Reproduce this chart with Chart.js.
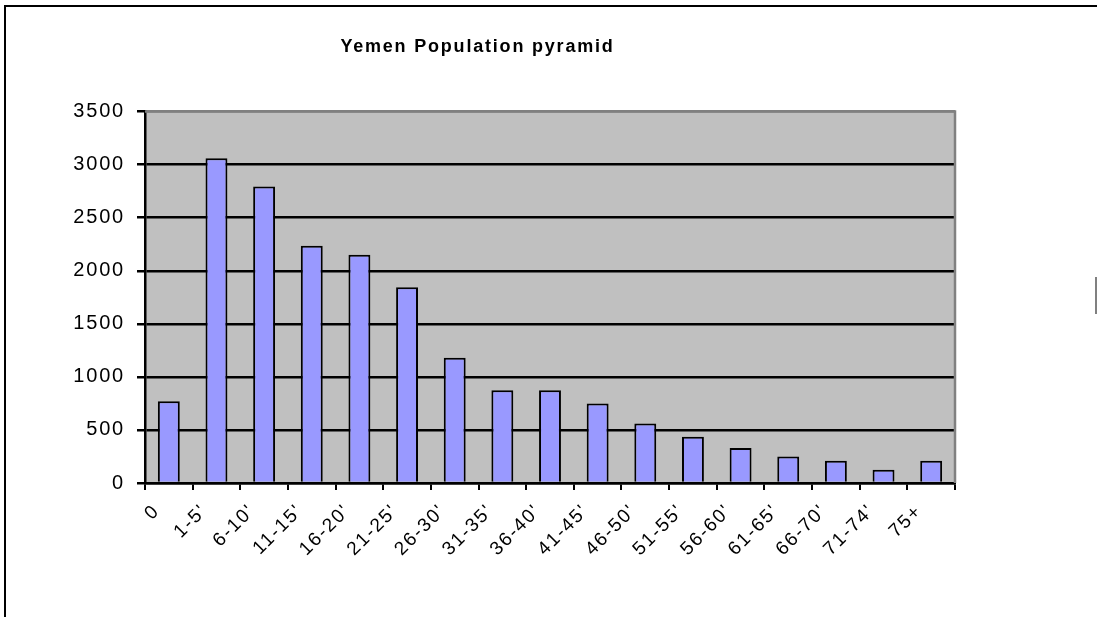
<!DOCTYPE html>
<html>
<head>
<meta charset="utf-8">
<script src="https://cdn.jsdelivr.net/npm/chart.js@4"></script>
<style>
  body { margin: 0; background: #fff; overflow: hidden; }
  #wrap { position: relative; width: 1097px; height: 617px; }
  #frame { position: absolute; left: 4px; top: 5px; width: 3000px; height: 3000px;
           border-top: 2px solid #000; border-left: 2px solid #000; }
  #mark { position: absolute; left: 1095px; top: 277px; width: 2px; height: 37px; background: #808080; }
  canvas { position: absolute; left: 0; top: 0; }
</style>
</head>
<body>
<div id="wrap">
  <canvas id="pyramid" width="1097" height="617"></canvas>
  <div id="frame"></div>
  <div id="mark"></div>
</div>
<script>
// age groups and population (thousands)
const ageGroups = ["0", "1-5'", "6-10'", "11-15'", "16-20'", "21-25'", "26-30'", "31-35'", "36-40'",
                   "41-45'", "46-50'", "51-55'", "56-60'", "61-65'", "66-70'", "71-74'", "75+"];
const population = [770, 3060, 2795, 2235, 2150, 1845, 1180, 875, 875, 750, 560, 435, 330, 250, 210, 125, 210];
const yTicks = [0, 500, 1000, 1500, 2000, 2500, 3000, 3500];

// grey plot area with the grey top/right edge
const plotBackground = {
    id: 'plotBackground',
    beforeUpdate(chart) {
        chart.ctx.letterSpacing = '1.8px';
    },
    beforeDraw(chart) {
        let { ctx, chartArea: a } = chart;
        ctx.save();
        ctx.fillStyle = '#C0C0C0';
        ctx.fillRect(a.left, a.top, a.right - a.left, a.bottom - a.top);
        ctx.restore();
    },
    afterDraw(chart) {
        let { ctx, chartArea: a } = chart;
        ctx.save();
        ctx.strokeStyle = '#808080';
        ctx.lineWidth = 2.5;
        ctx.beginPath();
        ctx.moveTo(a.left, a.top);
        ctx.lineTo(a.right, a.top);
        ctx.lineTo(a.right, a.bottom);
        ctx.stroke();
        ctx.restore();
    }
};

let ctx = document.getElementById('pyramid').getContext('2d');
let pyramidChart = new Chart(ctx, {
    type: 'bar',
    data: {
        labels: ageGroups,
        datasets: [{
            label: 'Population',
            data: population,
            backgroundColor: '#9999FF',
            borderColor: '#000000',
            borderWidth: 2,
            barPercentage: 0.46,
            categoryPercentage: 1
        }]
    },
    options: {
        responsive: false,
        animation: false,
        layout: {
            padding: { left: 0, right: 142, top: 0, bottom: 0 }
        },
        scales: {
            y: {
                min: 0,
                max: 3500,
                afterFit: scale => { scale.width = 145; },
                afterBuildTicks: scale => { scale.ticks = yTicks.map(v => ({ value: v })); },
                border: { color: '#000', width: 2.5 },
                grid: {
                    color: c => c.tick && c.tick.value === 3500 ? '#808080' : '#000',
                    tickColor: '#000',
                    lineWidth: 2.5,
                    tickLength: 8
                },
                ticks: {
                    color: '#000',
                    padding: 12,
                    font: { family: 'Liberation Sans, Arial', size: 20 },
                    callback: v => String(v)
                }
            },
            x: {
                afterFit: scale => { scale.height = 134; },
                border: { color: '#000', width: 2.5 },
                grid: {
                    offset: true,
                    drawOnChartArea: false,
                    color: '#000',
                    lineWidth: 2,
                    tickLength: 7
                },
                ticks: {
                    color: '#000',
                    minRotation: 45,
                    maxRotation: 45,
                    padding: 10,
                    labelOffset: -12,
                    font: { family: 'Liberation Sans, Arial', size: 19 }
                }
            }
        },
        plugins: {
            legend: { display: false },
            tooltip: { enabled: false },
            title: {
                display: true,
                text: 'Yemen Population pyramid',
                color: '#000',
                font: { family: 'Liberation Sans, Arial', size: 18, weight: 'bold' },
                padding: { top: 36, bottom: 54 }
            }
        }
    },
    plugins: [plotBackground]
});
</script>
</body>
</html>
